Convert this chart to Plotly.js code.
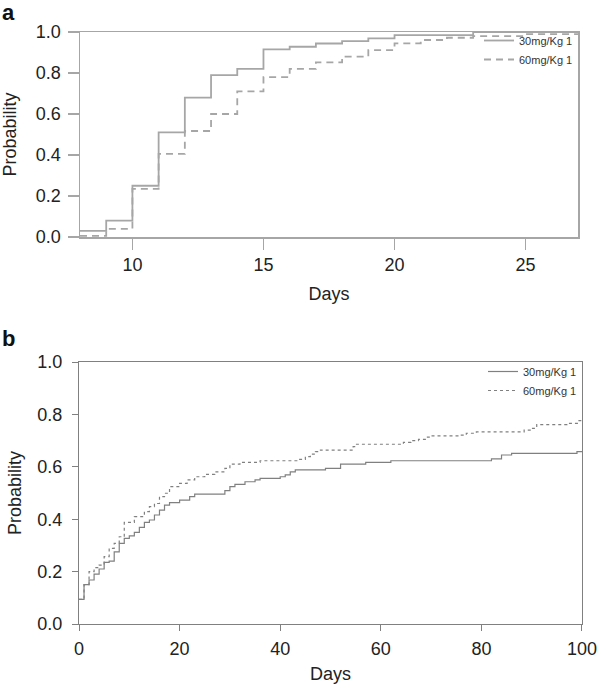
<!DOCTYPE html>
<html>
<head>
<meta charset="utf-8">
<script src="https://cdn.plot.ly/plotly-3.0.1.min.js"></script>
<style>
  html, body { margin: 0; padding: 0; background: #fff; }
  #chart { width: 598px; height: 685px; }
</style>
</head>
<body>
<div id="chart"></div>
<script>
// panel a: cumulative probability, days 8-27
var daysA30 = [8, 9, 10, 11, 12, 13, 14, 15, 16, 17, 18, 19, 20, 23, 27];
var probA30 = [0.03, 0.08, 0.25, 0.51, 0.68, 0.79, 0.82, 0.915, 0.928, 0.944, 0.955, 0.969, 0.985, 1.0, 1.0];
var daysA60 = [8, 9, 10, 11, 12, 13, 14, 15, 16, 17, 18, 19, 20, 21, 22, 23, 25, 27];
var probA60 = [0.005, 0.04, 0.235, 0.405, 0.517, 0.6, 0.71, 0.78, 0.82, 0.852, 0.88, 0.912, 0.945, 0.961, 0.972, 0.98, 0.99, 0.99];

// panel b: cumulative probability, days 0-100
var daysB30 = [0, 1, 2, 3, 4, 5, 6, 7, 8, 9, 10, 11, 12, 13, 14, 15, 16, 17, 18, 20, 22, 23, 29, 30, 31, 33, 35, 36, 40, 41, 42, 43, 49, 52, 57, 62, 82, 84, 86, 99, 100];
var probB30 = [0.094, 0.15, 0.168, 0.19, 0.21, 0.235, 0.24, 0.275, 0.308, 0.327, 0.336, 0.35, 0.369, 0.388, 0.397, 0.416, 0.435, 0.454, 0.463, 0.473, 0.486, 0.496, 0.509, 0.524, 0.533, 0.543, 0.55, 0.556, 0.562, 0.569, 0.581, 0.588, 0.594, 0.61, 0.617, 0.623, 0.63, 0.645, 0.651, 0.658, 0.658];
var daysB60 = [0, 1, 2, 3, 4, 5, 6, 7, 8, 9, 11, 13, 14, 15, 16, 17, 18, 20, 21.5, 23, 25, 27, 29, 30, 32, 36, 43.6, 45, 46, 47, 48, 54.5, 55, 64.5, 66, 67.5, 69, 70, 75.5, 77, 79, 88.5, 90, 91, 97, 99.4, 100];
var probB60 = [0.094, 0.15, 0.2, 0.215, 0.225, 0.257, 0.289, 0.308, 0.333, 0.388, 0.41, 0.429, 0.448, 0.46, 0.486, 0.499, 0.524, 0.537, 0.55, 0.562, 0.571, 0.581, 0.594, 0.61, 0.617, 0.623, 0.628, 0.639, 0.648, 0.658, 0.664, 0.677, 0.686, 0.693, 0.7, 0.705, 0.713, 0.718, 0.721, 0.728, 0.733, 0.74, 0.747, 0.761, 0.766, 0.776, 0.776];

var seriesNames = ['30mg/Kg 1', '60mg/Kg 1'];
var probTicks = [0, 0.2, 0.4, 0.6, 0.8, 1.0];
var dayTicksA = [10, 15, 20, 25];
var dayTicksB = [0, 20, 40, 60, 80, 100];

var W = 598, H = 685;
var font = 'Liberation Sans, Arial, Helvetica, sans-serif';
var greyA = '#a6a6a6';
var greyB = '#808080';
var fs = 18;

var data = [
  { x: daysA30, y: probA30, name: seriesNames[0], type: 'scatter', mode: 'lines',
    line: { shape: 'hv', color: greyA, width: 1.8 }, xaxis: 'x', yaxis: 'y', legend: 'legend' },
  { x: daysA60, y: probA60, name: seriesNames[1], type: 'scatter', mode: 'lines',
    line: { shape: 'hv', color: greyA, width: 1.8, dash: '7px,5px' }, xaxis: 'x', yaxis: 'y', legend: 'legend' },
  { x: daysB30, y: probB30, name: seriesNames[0], type: 'scatter', mode: 'lines',
    line: { shape: 'hv', color: greyB, width: 1.2 }, xaxis: 'x2', yaxis: 'y2', legend: 'legend2' },
  { x: daysB60, y: probB60, name: seriesNames[1], type: 'scatter', mode: 'lines',
    line: { shape: 'hv', color: greyB, width: 1.2, dash: '3px,3px' }, xaxis: 'x2', yaxis: 'y2', legend: 'legend2' }
];

function axisA(extra) {
  return Object.assign({
    showline: true, mirror: true, linecolor: greyA, linewidth: 1.5,
    showgrid: false, zeroline: false, ticks: 'outside', ticklen: 11, tickwidth: 1.5,
    tickcolor: greyA, tickfont: { family: font, size: fs, color: '#222' }, fixedrange: true
  }, extra);
}
function axisB(extra) {
  return Object.assign({
    showline: true, mirror: true, linecolor: greyB, linewidth: 1,
    showgrid: false, zeroline: false, ticks: 'outside', ticklen: 6, tickwidth: 1,
    tickcolor: greyB, tickfont: { family: font, size: fs, color: '#222' }, fixedrange: true,
    ticklabeloverflow: 'allow'
  }, extra);
}

var layout = {
  width: W, height: H,
  margin: { l: 0, r: 0, t: 0, b: 0 },
  paper_bgcolor: '#fff', plot_bgcolor: '#fff',
  font: { family: font, color: '#222' },
  showlegend: true,
  xaxis: axisA({ domain: [80 / W, 578 / W], range: [8, 27], tickvals: dayTicksA,
    anchor: 'y', ticklabelstandoff: 0,
    title: { text: 'Days', font: { family: font, size: fs, color: '#222' }, standoff: 13 } }),
  yaxis: axisA({ domain: [1 - 237 / H, 1 - 32 / H], range: [0, 1], tickvals: probTicks,
    tickformat: '.1f', anchor: 'x', ticklabelstandoff: 3,
    title: { text: 'Probability', font: { family: font, size: fs, color: '#222' }, standoff: 14 } }),
  xaxis2: axisB({ domain: [79 / W, 582 / W], range: [0, 100.001], tickvals: dayTicksB,
    anchor: 'y2', ticklabelstandoff: 2,
    title: { text: 'Days', font: { family: font, size: fs, color: '#222' }, standoff: 9 } }),
  yaxis2: axisB({ domain: [1 - 624 / H, 1 - 362 / H], range: [0, 1], tickvals: probTicks,
    tickformat: '.1f', anchor: 'x2', ticklabelstandoff: 6,
    title: { text: 'Probability', font: { family: font, size: fs, color: '#222' }, standoff: 11 } }),
  legend: {
    x: 578 / W, xanchor: 'right', y: 1 - 26 / H, yanchor: 'top',
    bgcolor: 'rgba(0,0,0,0)', borderwidth: 0, itemwidth: 30,
    font: { family: font, size: 11, color: '#333' }, tracegroupgap: 0
  },
  legend2: {
    x: 582 / W, xanchor: 'right', y: 1 - 357 / H, yanchor: 'top',
    bgcolor: 'rgba(0,0,0,0)', borderwidth: 0, itemwidth: 30,
    font: { family: font, size: 11, color: '#333' }, tracegroupgap: 0
  },
  annotations: [
    { text: '<b>a</b>', xref: 'paper', yref: 'paper', x: 0, y: 1 + 2 / H, xanchor: 'left', yanchor: 'top',
      showarrow: false, font: { family: font, size: 22, color: '#111' } },
    { text: '<b>b</b>', xref: 'paper', yref: 'paper', x: 0, y: 1 - 324 / H, xanchor: 'left', yanchor: 'top',
      showarrow: false, font: { family: font, size: 22, color: '#111' } }
  ]
};

Plotly.newPlot('chart', data, layout, { displayModeBar: false, staticPlot: true });
</script>
</body>
</html>
